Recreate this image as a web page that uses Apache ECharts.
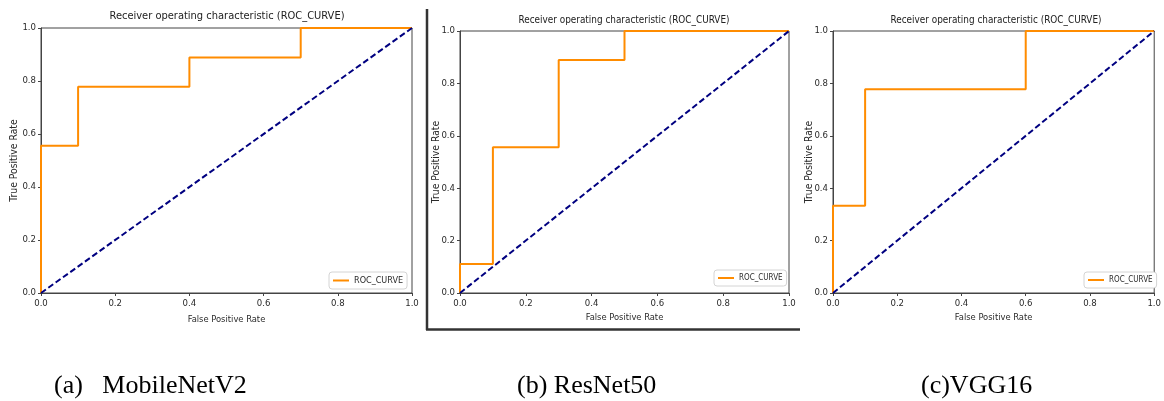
<!DOCTYPE html>
<html>
<head>
<meta charset="utf-8">
<script src="https://cdn.jsdelivr.net/npm/echarts@6/dist/echarts.min.js"></script>
<style>
html, body { margin: 0; padding: 0; background: #fff; }
#main { width: 1164px; height: 401px; }
</style>
</head>
<body>
<div id="main"></div>
<script>
// ROC points
var mobileFpr = [0, 0, 0.1, 0.1, 0.4, 0.4, 0.7, 0.7, 1];
var mobileTpr = [0, 0.556, 0.556, 0.778, 0.778, 0.889, 0.889, 1, 1];
var resnetFpr = [0, 0, 0.1, 0.1, 0.3, 0.3, 0.5, 0.5, 1];
var resnetTpr = [0, 0.111, 0.111, 0.556, 0.556, 0.889, 0.889, 1, 1];
var vggFpr = [0, 0, 0.1, 0.1, 0.6, 0.6, 1];
var vggTpr = [0, 0.333, 0.333, 0.778, 0.778, 1, 1];
var chanceFpr = [0, 1];
var chanceTpr = [0, 1];
var tickLabels = ['0.0', '0.2', '0.4', '0.6', '0.8', '1.0'];
var captions = ['(a)   MobileNetV2', '(b) ResNet50', '(c)VGG16'];
var chartTitle = 'Receiver operating characteristic (ROC_CURVE)';

function zip(xs, ys) {
  return xs.map(function (x, i) { return [x, ys[i]]; });
}

var rocs = [zip(mobileFpr, mobileTpr), zip(resnetFpr, resnetTpr), zip(vggFpr, vggTpr)];

// panel layout (pixels)
var panels = [
  { left: 41, top: 28, width: 371, height: 265, titleX: 227, titleY: 11, titleSize: 11, xGap: 22, yGap: 22, legendX: 329, legendY: 272, legendSize: 9 },
  { left: 460, top: 31, width: 329, height: 262, titleX: 624, titleY: 15, titleSize: 9.9, xGap: 20, yGap: 19, legendX: 714, legendY: 270, legendSize: 8 },
  { left: 833, top: 31, width: 326, height: 262, titleX: 996, titleY: 15, titleSize: 9.9, xGap: 20, yGap: 19, legendX: 1084, legendY: 272, legendSize: 8 }
];
var captionX = [54, 517, 921];

var font = 'DejaVu Sans Condensed, DejaVu Sans, sans-serif';

var option = {
  backgroundColor: '#fff',
  animation: false,
  title: [],
  grid: [],
  xAxis: [],
  yAxis: [],
  legend: [],
  series: [],
  graphic: []
};

panels.forEach(function (p, i) {
  option.title.push({
    text: chartTitle,
    left: p.titleX,
    top: p.titleY,
    textAlign: 'center',
    padding: 0,
    textStyle: { fontFamily: font, fontSize: p.titleSize, fontWeight: 'normal', color: '#222' }
  });
  option.grid.push({
    left: p.left, top: p.top, width: p.width, height: p.height,
    show: true, borderColor: '#444', borderWidth: 1, backgroundColor: '#fff'
  });
  var axisCommon = {
    type: 'value', min: 0, max: 1, interval: 0.2,
    gridIndex: i,
    splitLine: { show: false },
    axisLine: { show: true, onZero: false, lineStyle: { color: '#444', width: 1 } },
    axisTick: { show: true, inside: false, length: 3, lineStyle: { color: '#444' } },
    axisLabel: {
      fontFamily: font, fontSize: 9.5, color: '#2a2a2a',
      formatter: function (v) { return tickLabels[Math.round(v / 0.2)]; }
    },
    nameLocation: 'middle',
    nameMoveOverlap: false,
    nameTextStyle: { fontFamily: font, fontSize: 9.3, color: '#2a2a2a' }
  };
  option.xAxis.push(Object.assign({}, axisCommon, {
    name: 'False Positive Rate', nameGap: p.xGap,
    axisLabel: Object.assign({}, axisCommon.axisLabel, { margin: 6 })
  }));
  option.yAxis.push(Object.assign({}, axisCommon, {
    name: 'True Positive Rate', nameGap: p.yGap, nameRotate: 90,
    nameTextStyle: { fontFamily: font, fontSize: 10.3, color: '#2a2a2a' },
    axisLabel: Object.assign({}, axisCommon.axisLabel, { margin: 5 })
  }));
  option.legend.push({
    left: p.legendX, top: p.legendY,
    orient: 'vertical',
    data: ['ROC_CURVE'],
    icon: 'rect', itemWidth: 16, itemHeight: 2, itemGap: 0,
    padding: [4, 4, 4, 4],
    borderColor: '#d4d4d4', borderWidth: 1, borderRadius: 3,
    backgroundColor: '#fff',
    textStyle: { fontFamily: font, fontSize: p.legendSize, color: '#2a2a2a' }
  });
  option.series.push({
    name: 'ROC_CURVE', type: 'line',
    xAxisIndex: i, yAxisIndex: i,
    data: rocs[i],
    symbol: 'none', clip: false,
    lineStyle: { color: '#ff8c00', width: 2 },
    itemStyle: { color: '#ff8c00' },
    z: 3
  });
  option.series.push({
    name: 'chance', type: 'line',
    xAxisIndex: i, yAxisIndex: i,
    data: zip(chanceFpr, chanceTpr),
    symbol: 'none',
    lineStyle: { color: '#000080', width: 2, type: [6, 3] },
    z: 4
  });
  option.graphic.push({
    type: 'text',
    left: captionX[i], top: 373,
    style: { text: captions[i], fontFamily: 'Liberation Serif, Times New Roman, serif', fontSize: 26, fill: '#000' }
  });
});

// frame lines around the middle panel
option.graphic.push({
  type: 'line', shape: { x1: 427, y1: 9, x2: 427, y2: 330 },
  style: { stroke: '#333', lineWidth: 2.5 }
});
option.graphic.push({
  type: 'line', shape: { x1: 426, y1: 329.5, x2: 800, y2: 329.5 },
  style: { stroke: '#333', lineWidth: 2.5 }
});

var chart = echarts.init(document.getElementById('main'));
chart.setOption(option);
</script>
</body>
</html>
